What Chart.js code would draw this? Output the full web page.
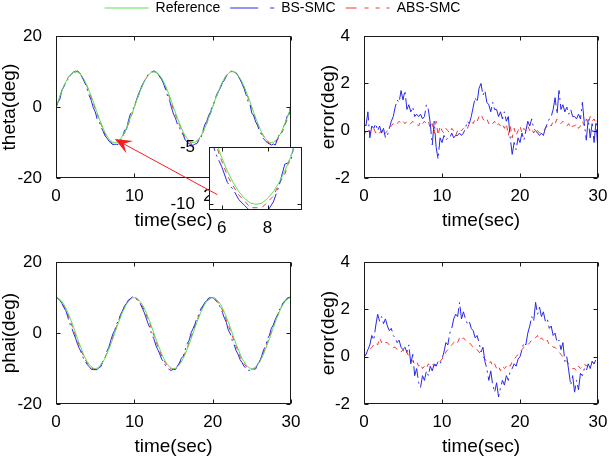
<!DOCTYPE html>
<html>
<head>
<meta charset="utf-8">
<script src="https://cdn.jsdelivr.net/npm/chart.js@4.4.1/dist/chart.umd.min.js"></script>
<style>
  html, body { margin: 0; padding: 0; background: #fff; }
  body { width: 612px; height: 460px; position: relative; overflow: hidden; }
  canvas { position: absolute; }
</style>
</head>
<body>
<canvas id="legend" width="573" height="60" style="left:-4px;top:-9px"></canvas>
<canvas id="thetaChart" width="307" height="225" style="left:-2px;top:20px"></canvas>
<canvas id="thetaZoom" width="307" height="225" style="left:-2px;top:20px"></canvas>
<canvas id="thetaErr" width="295" height="225" style="left:317px;top:20px"></canvas>
<canvas id="phaiChart" width="307" height="225" style="left:-2px;top:246px"></canvas>
<canvas id="phaiErr" width="295" height="225" style="left:317px;top:246px"></canvas>
<script>
const seriesNames = ["Reference", "BS-SMC", "ABS-SMC"];

const timeTicks = [0, 10, 20, 30];
const angleTicks = [-20, 0, 20];
const errorTicks = [-2, 0, 2, 4];
const zoomTimeTicks = [6, 8];
const zoomAngleTicks = [-10, -5];

const thetaRef = [
  0.0, 1.6, 3.1, 4.5, 5.9, 7.1, 8.1, 8.9, 9.5, 9.9, 10.0, 9.9, 9.5, 8.9, 8.1, 7.1, 5.9, 4.5, 3.1, 1.6,
  0.0, -1.6, -3.1, -4.5, -5.9, -7.1, -8.1, -8.9, -9.5, -9.9, -10.0, -9.9, -9.5, -8.9, -8.1, -7.1, -5.9, -4.5, -3.1, -1.6,
  0.0, 1.6, 3.1, 4.5, 5.9, 7.1, 8.1, 8.9, 9.5, 9.9, 10.0, 9.9, 9.5, 8.9, 8.1, 7.1, 5.9, 4.5, 3.1, 1.6,
  0.0, -1.6, -3.1, -4.5, -5.9, -7.1, -8.1, -8.9, -9.5, -9.9, -10.0, -9.9, -9.5, -8.9, -8.1, -7.1, -5.9, -4.5, -3.1, -1.6,
  0.0, 1.6, 3.1, 4.5, 5.9, 7.1, 8.1, 8.9, 9.5, 9.9, 10.0, 9.9, 9.5, 8.9, 8.1, 7.1, 5.9, 4.5, 3.1, 1.6,
  0.0, -1.6, -3.1, -4.5, -5.9, -7.1, -8.1, -8.9, -9.5, -9.9, -10.0, -9.9, -9.5, -8.9, -8.1, -7.1, -5.9, -4.5, -3.1, -1.6,
  0.0
];

const phaiRef = [
  10.0, 9.9, 9.5, 8.9, 8.1, 7.1, 5.9, 4.5, 3.1, 1.6, 0.0, -1.6, -3.1, -4.5, -5.9, -7.1, -8.1, -8.9, -9.5, -9.9,
  -10.0, -9.9, -9.5, -8.9, -8.1, -7.1, -5.9, -4.5, -3.1, -1.6, 0.0, 1.6, 3.1, 4.5, 5.9, 7.1, 8.1, 8.9, 9.5, 9.9,
  10.0, 9.9, 9.5, 8.9, 8.1, 7.1, 5.9, 4.5, 3.1, 1.6, 0.0, -1.6, -3.1, -4.5, -5.9, -7.1, -8.1, -8.9, -9.5, -9.9,
  -10.0, -9.9, -9.5, -8.9, -8.1, -7.1, -5.9, -4.5, -3.1, -1.6, 0.0, 1.6, 3.1, 4.5, 5.9, 7.1, 8.1, 8.9, 9.5, 9.9,
  10.0, 9.9, 9.5, 8.9, 8.1, 7.1, 5.9, 4.5, 3.1, 1.6, 0.0, -1.6, -3.1, -4.5, -5.9, -7.1, -8.1, -8.9, -9.5, -9.9,
  -10.0, -9.9, -9.5, -8.9, -8.1, -7.1, -5.9, -4.5, -3.1, -1.6, 0.0, 1.6, 3.1, 4.5, 5.9, 7.1, 8.1, 8.9, 9.5, 9.9,
  10.0
];

// tracking errors (reference - actual)
const thetaErrBS = [
  0.3, 0.2, 0.8, -0.3,  0.2, 0.1, 0.3, 0.0,  0.2, -0.1, 0.1, -0.3,  -0.2, 0.1, 0.4, 0.6,
  1.0, 1.3, 1.2, 1.7,  1.3, 1.7, 0.9, 1.1,  0.8, 1.0, 0.6, 0.7,  0.6, 0.7, 0.5, 0.6,
  1.1, 0.9, 0.3, -0.6,  0.4, -0.7, -1.2, -0.3,  -0.5, -0.2, -0.4, -0.3,  -0.3, -0.1, -0.3, -0.2,
  -0.2, -0.1, -0.2, -0.1,  0.1, 0.4, 0.3, 0.6,  1.0, 1.4, 1.2, 1.8,  2.0, 1.5, 1.7, 1.2,
  1.1, 0.8, 1.2, 0.9,  0.9, 0.6, 0.8, 0.5,  0.8, 0.4, 0.6, -0.3,  -1.0, -0.5, -0.8, -0.3,
  -0.5, -0.1, -0.4, 0.0,  0.4, 0.2, 0.5, 0.1,  0.0, -0.1, -0.2, -0.1,  -0.2, 0.1, 0.3, 0.5,
  0.6, 0.9, 1.4, 0.7,  1.7, 0.9, 1.1, 0.8,  1.0, 0.7, 0.9, 0.6,  0.6, 0.5, 0.7, 0.5,
  1.2, 0.3, -0.4, 0.5,  -0.3, 0.3, -0.5, 0.4,  -0.9
];

const thetaErrABS = [
  -0.2, 0.0, 0.1, -0.1,  0.0, 0.1, -0.1, 0.0,  -0.1, 0.0, -0.2, -0.1,  0.0, 0.1, 0.2, 0.3,
  0.2, 0.3, 0.4, 0.3,  0.4, 0.3, 0.4, 0.3,  0.3, 0.4, 0.3, 0.3,  0.2, 0.4, 0.3, 0.4,
  0.3, 0.4, 0.1, 0.3,  -0.1, 0.4, -0.2, 0.2,  0.0, -0.1, 0.1, 0.0,  -0.1, 0.1, 0.0, -0.2,
  0.0, 0.1, 0.0, 0.1,  0.2, 0.1, 0.3, 0.4,  0.3, 0.5, 0.4, 0.6,  0.7, 0.5, 0.4, 0.5,
  0.3, 0.4, 0.3, 0.4,  0.2, 0.3, 0.2, 0.3,  0.1, 0.3, -0.2, 0.2,  -0.3, 0.1, -0.2, 0.0,
  0.2, -0.1, 0.1, 0.0,  0.2, 0.0, 0.1, -0.1,  0.1, 0.0, -0.1, 0.0,  0.0, 0.1, 0.2, 0.3,
  0.2, 0.4, 0.3, 0.5,  0.4, 0.3, 0.4, 0.3,  0.2, 0.3, 0.1, 0.2,  0.2, 0.3, 0.1, 0.2,
  0.4, 0.2, 0.5, 0.3,  0.6, 0.4, 0.5, 0.3,  0.5
];

const phaiErrBS = [
  0.0, 0.1, 0.3, 0.5,  0.9, 0.7, 1.3, 1.8,  1.5, 1.7, 1.4, 1.6,  1.3, 1.1, 1.2, 0.9,
  0.8, 0.6, 0.7, 0.4,  0.3, 0.4, 0.2, 0.5,  -0.3, 0.1, -0.8, -0.5,  -1.1, -1.3, -0.8, -1.0,
  -0.6, -0.8, -0.4, -0.6,  -0.3, -0.4, -0.2, -0.3,  -0.1, 0.2, 0.6, 0.5,  1.0, 1.2, 1.6, 1.8,
  1.7, 2.3, 1.6, 1.9,  1.6, 1.4, 1.5, 1.2,  1.1, 0.8, 0.9, 0.6,  0.2, 0.4, -0.2, -0.5,
  -1.0, -0.6, -1.2, -1.5,  -1.1, -1.7, -1.3, -1.0,  -1.2, -0.8, -1.0, -0.6,  -0.5, -0.3, -0.4, -0.1,
  0.0, 0.3, 0.6, 0.5,  1.0, 1.3, 1.7, 1.5,  2.3, 1.8, 2.1, 1.7,  1.9, 1.5, 1.6, 1.2,
  1.3, 0.9, 1.0, 0.6,  0.7, 0.3, 0.6, -0.2,  0.0, -0.6, -1.2, -0.8,  -1.5, -1.0, -1.4, -0.7,
  -0.8, -0.5, -0.6, -0.3,  -0.5, -0.2, -0.3, -0.1,  -0.2
];

const phaiErrABS = [
  0.0, 0.1, 0.2, 0.3,  0.4, 0.5, 0.6, 0.5,  0.8, 0.6, 0.7, 0.6,  0.6, 0.5, 0.5, 0.4,
  0.4, 0.3, 0.3, 0.2,  0.3, 0.1, 0.2, 0.0,  -0.1, -0.2, -0.3, -0.2,  -0.4, -0.3, -0.5, -0.4,
  -0.5, -0.3, -0.4, -0.3,  -0.4, -0.3, -0.3, -0.2,  -0.1, 0.0, 0.2, 0.3,  0.4, 0.5, 0.6, 0.7,
  0.6, 0.8, 0.7, 0.8,  0.7, 0.6, 0.6, 0.5,  0.4, 0.4, 0.3, 0.2,  0.1, 0.0, -0.1, -0.2,
  -0.3, -0.2, -0.4, -0.3,  -0.5, -0.4, -0.6, -0.4,  -0.5, -0.4, -0.3, -0.4,  -0.2, -0.1, 0.0, 0.1,
  0.2, 0.3, 0.4, 0.5,  0.5, 0.6, 0.7, 0.8,  0.8, 0.9, 0.7, 0.8,  0.7, 0.6, 0.7, 0.5,
  0.5, 0.4, 0.4, 0.3,  0.2, 0.1, 0.0, -0.1,  -0.2, -0.3, -0.4, -0.5,  -0.5, -0.6, -0.4, -0.5,
  -0.4, -0.3, -0.4, -0.3,  -0.3, -0.2, -0.3, -0.2,  -0.1
];

// arrow from the inset to the zoomed trough, in theta-plot data units
const arrowTip = [7.5, -9.0];
const arrowTail = [20.6, -24.7];

// ---- build ----
const time = [];
for (let i = 0; i < thetaRef.length; i++) time.push(i * 0.25);

// actual angle = reference - tracking error
const thetaBS = thetaRef.map((v, i) => v - thetaErrBS[i]);
const thetaABS = thetaRef.map((v, i) => v - thetaErrABS[i]);
const phaiBS = phaiRef.map((v, i) => v - phaiErrBS[i]);
const phaiABS = phaiRef.map((v, i) => v - phaiErrABS[i]);

const GREEN = "rgb(90,225,90)";
const BLUE = "rgb(40,40,235)";
const RED = "rgb(240,55,55)";

Chart.defaults.font.family = "'Liberation Sans', Arial, Helvetica, sans-serif";
Chart.defaults.color = "#000";
Chart.defaults.animation = false;

const pts = (ys) => ys.map((y, i) => ({ x: time[i], y: y }));
const refSet = (ys) => ({ data: pts(ys), borderColor: GREEN, borderWidth: 1 });
const bsSet = (ys) => ({ data: pts(ys), borderColor: BLUE, borderWidth: 1, borderDash: [26, 4, 2, 4] });
const absSet = (ys) => ({ data: pts(ys), borderColor: RED, borderWidth: 1, borderDash: [5, 5] });

// matlab style box with inward tick marks
const boxFrame = {
  id: "boxFrame",
  afterDraw(chart) {
    const { ctx, chartArea: a, scales } = chart;
    const l = Math.round(a.left) + 0.5, r = Math.round(a.right) - 0.5;
    const t = Math.round(a.top) + 0.5, b = Math.round(a.bottom) - 0.5;
    ctx.save();
    ctx.strokeStyle = "#1a1a1a";
    ctx.lineWidth = 1;
    ctx.strokeRect(l, t, r - l, b - t);
    ctx.beginPath();
    scales.x.ticks.forEach((tk) => {
      const px = Math.round(scales.x.getPixelForValue(tk.value)) + 0.5;
      ctx.moveTo(px, b); ctx.lineTo(px, b - 4);
      ctx.moveTo(px, t); ctx.lineTo(px, t + 4);
    });
    scales.y.ticks.forEach((tk) => {
      const py = Math.round(scales.y.getPixelForValue(tk.value)) + 0.5;
      ctx.moveTo(l, py); ctx.lineTo(l + 4, py);
      ctx.moveTo(r, py); ctx.lineTo(r - 4, py);
    });
    ctx.stroke();
    ctx.restore();
  },
};

const whiteArea = {
  id: "whiteArea",
  beforeDraw(chart) {
    const { ctx, chartArea: a } = chart;
    ctx.save();
    ctx.fillStyle = "#fff";
    ctx.fillRect(a.left, a.top, a.right - a.left, a.bottom - a.top);
    ctx.restore();
  },
};

function makePlot(id, datasets, o) {
  return new Chart(document.getElementById(id), {
    type: "line",
    data: { datasets: datasets },
    options: {
      responsive: false,
      devicePixelRatio: 1,
      animation: false,
      layout: { padding: o.padding },
      plugins: { legend: { display: false }, tooltip: { enabled: false } },
      elements: { point: { radius: 0 }, line: { tension: 0 } },
      scales: {
        x: {
          type: "linear", min: o.xMin, max: o.xMax,
          afterBuildTicks: (s) => { s.ticks = o.xTicks.map((v) => ({ value: v })); },
          afterFit: (s) => { s.height = o.xHeight; },
          grid: { display: false }, border: { display: false },
          ticks: { font: { size: 17 }, padding: 0, autoSkip: false, maxRotation: 0, callback: (v) => String(v) },
          title: { display: !!o.xTitle, text: o.xTitle, font: { size: 19 }, padding: 0 },
        },
        y: {
          type: "linear", min: o.yMin, max: o.yMax,
          afterBuildTicks: (s) => { s.ticks = o.yTicks.map((v) => ({ value: v })); },
          afterFit: (s) => { s.width = o.yWidth; },
          grid: { display: false }, border: { display: false },
          ticks: { font: { size: 17 }, padding: 6, autoSkip: false, callback: (v) => String(v) },
          title: { display: !!o.yTitle, text: o.yTitle, font: { size: 19 }, padding: 0 },
        },
      },
    },
    plugins: [boxFrame].concat(o.extra || []),
  });
}

// legend strip
new Chart(document.getElementById("legend"), {
  type: "line",
  data: {
    datasets: [
      { label: seriesNames[0], data: [], borderColor: GREEN, borderWidth: 1 },
      { label: seriesNames[1], data: [], borderColor: BLUE, borderWidth: 1, borderDash: [28, 12, 4, 20] },
      { label: seriesNames[2], data: [], borderColor: RED, borderWidth: 1, borderDash: [11, 8, 4, 7, 4, 7, 4, 20] },
    ],
  },
  options: {
    responsive: false,
    devicePixelRatio: 1,
    animation: false,
    scales: { x: { display: false }, y: { display: false } },
    plugins: {
      tooltip: { enabled: false },
      legend: {
        display: true, position: "top", align: "center",
        labels: {
          usePointStyle: true, pointStyle: "line", pointStyleWidth: 44, padding: 10,
          font: { size: 14 }, color: "#000",
          generateLabels: (chart) =>
            Chart.defaults.plugins.legend.labels.generateLabels(chart).map((item, i) => {
              const ds = chart.data.datasets[i];
              item.lineDash = ds.borderDash || [];
              item.strokeStyle = ds.borderColor;
              item.lineWidth = 1;
              return item;
            }),
        },
      },
    },
  },
});

const leftPad = { left: 0, right: 14, top: 12, bottom: 13 };
const rightPad = { left: 0, right: 14, top: 12, bottom: 13 };

const thetaChart = makePlot("thetaChart", [refSet(thetaRef), bsSet(thetaBS), absSet(thetaABS)], {
  padding: leftPad, yWidth: 58, xHeight: 54,
  xMin: 0, xMax: 30, xTicks: timeTicks, yMin: -20, yMax: 20, yTicks: angleTicks,
  xTitle: "time(sec)", yTitle: "theta(deg)",
});

const arrowLayer = {
  id: "arrowLayer",
  afterDraw(chart) {
    const sx = thetaChart.scales.x, sy = thetaChart.scales.y;
    const tx = sx.getPixelForValue(arrowTip[0]), ty = sy.getPixelForValue(arrowTip[1]);
    const fx = sx.getPixelForValue(arrowTail[0]), fy = sy.getPixelForValue(arrowTail[1]);
    const len = Math.hypot(tx - fx, ty - fy);
    const dx = (tx - fx) / len, dy = (ty - fy) / len;
    const nx = -dy, ny = dx;
    const L = 17, W = 7;
    const ctx = chart.ctx;
    ctx.save();
    ctx.strokeStyle = "rgb(245,30,30)";
    ctx.fillStyle = "rgb(245,30,30)";
    ctx.lineWidth = 1;
    ctx.beginPath();
    ctx.moveTo(fx, fy);
    ctx.lineTo(tx - dx * 8, ty - dy * 8);
    ctx.stroke();
    ctx.beginPath();
    ctx.moveTo(tx, ty);
    ctx.lineTo(tx - dx * L + nx * W, ty - dy * L + ny * W);
    ctx.lineTo(tx - dx * L * 0.6, ty - dy * L * 0.6);
    ctx.lineTo(tx - dx * L - nx * W, ty - dy * L - ny * W);
    ctx.closePath();
    ctx.fill();
    ctx.restore();
  },
};

makePlot("thetaZoom", [refSet(thetaRef), bsSet(thetaBS), absSet(thetaABS)], {
  padding: { left: 171, right: 3, top: 127, bottom: 5 }, yWidth: 40, xHeight: 30,
  xMin: 5.45, xMax: 9.5, xTicks: zoomTimeTicks, yMin: -10.5, yMax: -5, yTicks: zoomAngleTicks,
  extra: [whiteArea, arrowLayer],
});

makePlot("thetaErr", [bsSet(thetaErrBS), absSet(thetaErrABS)], {
  padding: rightPad, yWidth: 47, xHeight: 54,
  xMin: 0, xMax: 30, xTicks: timeTicks, yMin: -2, yMax: 4, yTicks: errorTicks,
  xTitle: "time(sec)", yTitle: "error(deg)",
});

makePlot("phaiChart", [refSet(phaiRef), bsSet(phaiBS), absSet(phaiABS)], {
  padding: leftPad, yWidth: 58, xHeight: 54,
  xMin: 0, xMax: 30, xTicks: timeTicks, yMin: -20, yMax: 20, yTicks: angleTicks,
  xTitle: "time(sec)", yTitle: "phai(deg)",
});

makePlot("phaiErr", [bsSet(phaiErrBS), absSet(phaiErrABS)], {
  padding: rightPad, yWidth: 47, xHeight: 54,
  xMin: 0, xMax: 30, xTicks: timeTicks, yMin: -2, yMax: 4, yTicks: errorTicks,
  xTitle: "time(sec)", yTitle: "error(deg)",
});
</script>
</body>
</html>
